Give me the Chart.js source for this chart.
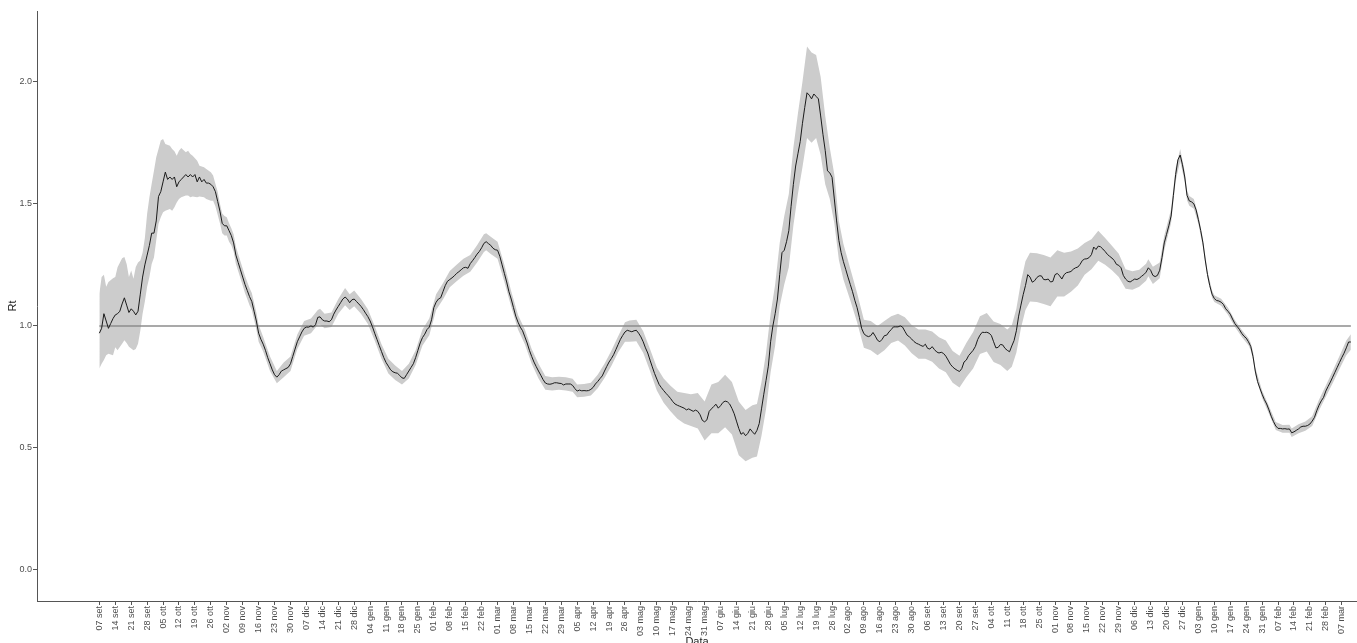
<!DOCTYPE html>
<html>
<head>
<meta charset="utf-8">
<title>Rt</title>
<script src="https://cdn.jsdelivr.net/npm/chart.js@4.4.1/dist/chart.umd.min.js"></script>
<style>
  html, body { margin: 0; padding: 0; background: #ffffff; }
  #wrap { width: 1357px; height: 643px; position: relative; }
</style>
</head>
<body>
<div id="wrap"><canvas id="rtCanvas"></canvas></div>
<script>
// etichette settimanali dell'asse x (una ogni 7 giorni dal 07 set)
const tickLabels = [
  "07 set", "14 set", "21 set", "28 set", "05 ott", "12 ott", "19 ott", "26 ott",
  "02 nov", "09 nov", "16 nov", "23 nov", "30 nov", "07 dic", "14 dic", "21 dic", "28 dic",
  "04 gen", "11 gen", "18 gen", "25 gen", "01 feb", "08 feb", "15 feb", "22 feb",
  "01 mar", "08 mar", "15 mar", "22 mar", "29 mar", "05 apr", "12 apr", "19 apr", "26 apr",
  "03 mag", "10 mag", "17 mag", "24 mag", "31 mag", "07 giu", "14 giu", "21 giu", "28 giu",
  "05 lug", "12 lug", "19 lug", "26 lug", "02 ago", "09 ago", "16 ago", "23 ago", "30 ago",
  "06 set", "13 set", "20 set", "27 set", "04 ott", "11 ott", "18 ott", "25 ott",
  "01 nov", "08 nov", "15 nov", "22 nov", "29 nov", "06 dic", "13 dic", "20 dic", "27 dic",
  "03 gen", "10 gen", "17 gen", "24 gen", "31 gen", "07 feb", "14 feb", "21 feb", "28 feb",
  "07 mar"
];

// Rt giornaliero, giorno 0 = 07 set
const rtValues = [
  0.97, 0.99, 1.05, 1.02, 0.99, 1.01, 1.03, 1.045, 1.05, 1.06,
  1.09, 1.115, 1.085, 1.055, 1.07, 1.06, 1.045, 1.06, 1.13, 1.20,
  1.25, 1.29, 1.33, 1.38, 1.38, 1.43, 1.53, 1.55, 1.59, 1.63,
  1.60, 1.61, 1.60, 1.61, 1.57, 1.59, 1.60, 1.61, 1.62, 1.61,
  1.62, 1.61, 1.62, 1.59, 1.61, 1.59, 1.60, 1.585, 1.585, 1.58,
  1.57, 1.55, 1.51, 1.47, 1.42, 1.41, 1.41, 1.39, 1.37, 1.34,
  1.29, 1.26, 1.23, 1.20, 1.17, 1.145, 1.12, 1.10, 1.06, 1.02,
  0.97, 0.945, 0.925, 0.90, 0.87, 0.845, 0.82, 0.80, 0.79, 0.80,
  0.815, 0.82, 0.825, 0.83, 0.845, 0.875, 0.905, 0.935, 0.955, 0.975,
  0.99, 0.995, 0.995, 1.0, 0.995, 1.005, 1.035, 1.037, 1.025, 1.02,
  1.02, 1.017, 1.025, 1.048, 1.065, 1.08, 1.095, 1.11, 1.118, 1.11,
  1.095, 1.107, 1.11, 1.10, 1.09, 1.08, 1.067, 1.052, 1.038, 1.02,
  0.997, 0.97, 0.945, 0.92, 0.895, 0.87, 0.85, 0.835, 0.82, 0.812,
  0.808, 0.806, 0.797, 0.787, 0.785, 0.80, 0.815, 0.83, 0.845, 0.87,
  0.90, 0.93, 0.952, 0.966, 0.985, 0.995, 1.025, 1.075, 1.097, 1.11,
  1.115, 1.14, 1.165, 1.183, 1.19, 1.197, 1.205, 1.215, 1.222, 1.23,
  1.238, 1.24, 1.236, 1.255, 1.267, 1.28, 1.294, 1.305, 1.32, 1.338,
  1.345, 1.337, 1.33, 1.318, 1.312, 1.31, 1.285, 1.25, 1.215, 1.18,
  1.14, 1.11, 1.075, 1.04, 1.015, 0.995, 0.98, 0.955, 0.93, 0.90,
  0.875, 0.852, 0.833, 0.815, 0.798, 0.78, 0.766, 0.762, 0.761, 0.763,
  0.767, 0.767, 0.765, 0.764, 0.758, 0.762, 0.762, 0.762, 0.756, 0.743,
  0.733, 0.737, 0.734, 0.735, 0.734, 0.735, 0.74, 0.748, 0.762, 0.772,
  0.784, 0.795, 0.815, 0.834, 0.852, 0.866, 0.882, 0.903, 0.924, 0.945,
  0.961, 0.975, 0.982, 0.979, 0.976, 0.98, 0.982, 0.97, 0.955, 0.935,
  0.91, 0.889, 0.86, 0.832, 0.805, 0.782, 0.76, 0.747, 0.735, 0.724,
  0.714, 0.703, 0.69, 0.68, 0.675, 0.671, 0.667, 0.663, 0.656, 0.66,
  0.655, 0.65, 0.655, 0.65, 0.636, 0.613, 0.607, 0.615, 0.65, 0.66,
  0.67, 0.679, 0.663, 0.673, 0.686, 0.692, 0.689, 0.68, 0.662, 0.64,
  0.61, 0.58, 0.556, 0.563, 0.55, 0.56, 0.578, 0.566, 0.556, 0.572,
  0.60, 0.66, 0.72, 0.777, 0.835, 0.935, 1.0, 1.05, 1.11, 1.21,
  1.30, 1.31, 1.345, 1.39, 1.49, 1.58, 1.655, 1.705, 1.755, 1.83,
  1.895, 1.955, 1.945, 1.93, 1.95, 1.94, 1.93, 1.86, 1.785, 1.718,
  1.635, 1.627, 1.609, 1.52, 1.43, 1.35, 1.30, 1.263, 1.232, 1.20,
  1.17, 1.14, 1.105, 1.075, 1.035, 0.99, 0.968, 0.96, 0.956, 0.96,
  0.973, 0.958, 0.941, 0.935, 0.945, 0.96, 0.962, 0.975, 0.985, 0.996,
  0.996, 0.996, 1.0, 0.995, 0.978, 0.962, 0.955, 0.946, 0.936, 0.929,
  0.925, 0.92, 0.916, 0.925, 0.908, 0.905, 0.915, 0.903, 0.893, 0.889,
  0.892, 0.887, 0.876, 0.86, 0.843, 0.832, 0.824, 0.818, 0.813, 0.825,
  0.852, 0.86, 0.878, 0.889, 0.90, 0.916, 0.944, 0.962, 0.974, 0.973,
  0.974, 0.97, 0.961, 0.935, 0.91, 0.912, 0.924, 0.922, 0.908, 0.90,
  0.894, 0.918, 0.94, 0.98, 1.04, 1.085, 1.128, 1.165, 1.21, 1.20,
  1.179, 1.185, 1.198, 1.205, 1.205, 1.19, 1.189, 1.192, 1.18, 1.182,
  1.21, 1.215, 1.205, 1.192, 1.21, 1.218, 1.22, 1.223, 1.232, 1.238,
  1.241, 1.252, 1.268, 1.274, 1.275, 1.28, 1.292, 1.323, 1.313, 1.327,
  1.324, 1.315, 1.305, 1.293, 1.285, 1.278, 1.268, 1.252, 1.248, 1.238,
  1.207, 1.192, 1.183, 1.18, 1.186, 1.192, 1.19, 1.195, 1.203, 1.21,
  1.22, 1.238, 1.228, 1.207, 1.202, 1.207, 1.228, 1.28, 1.34, 1.375,
  1.41, 1.45, 1.535, 1.62, 1.68, 1.70, 1.66, 1.61, 1.535, 1.512,
  1.508, 1.50, 1.475, 1.435, 1.391, 1.34, 1.27, 1.21, 1.165, 1.13,
  1.112, 1.104, 1.102, 1.097, 1.088, 1.07, 1.06, 1.048, 1.028, 1.01,
  0.998, 0.986, 0.97, 0.958, 0.95, 0.935, 0.916, 0.875, 0.815, 0.772,
  0.745, 0.72, 0.698, 0.68, 0.656, 0.63, 0.608, 0.59, 0.58, 0.58,
  0.578, 0.579, 0.577, 0.578, 0.562, 0.566, 0.572, 0.578, 0.586, 0.589,
  0.589, 0.592, 0.598, 0.61, 0.625, 0.652, 0.675, 0.693, 0.707, 0.733,
  0.752, 0.77, 0.79, 0.81, 0.83, 0.85, 0.87, 0.888, 0.91, 0.934,
  0.934
];

// intervallo di confidenza (giorno, limite inferiore, limite superiore)
const bandDays = [
  0, 1, 2, 3, 4, 6, 7, 8, 10, 11, 12, 13, 14, 15, 16, 17, 18, 19,
  20, 21, 22, 23, 24, 25, 26, 27, 28, 29, 31, 32, 33, 34, 35, 36, 38, 39,
  40, 41, 43, 44, 46, 47, 49, 50, 51, 52, 53, 54, 55, 56, 57, 58, 59,
  60, 61, 62, 63, 64, 65, 66, 67, 68, 69, 70, 72, 75, 78, 81, 84, 87,
  90, 93, 96, 97, 99, 102, 105, 108, 110, 112, 115, 118, 121, 124, 127,
  130, 133, 136, 139, 142, 145, 148, 151, 154, 157, 160, 163, 166, 169,
  170, 172, 175, 178, 181, 184, 187, 190, 193, 196, 199, 202, 205, 208,
  210, 213, 216, 219, 222, 225, 228, 231, 233, 236, 239, 242, 245, 248,
  251, 254, 257, 260, 263, 266, 269, 272, 275, 278, 281, 284, 287, 289,
  291, 293, 295, 297, 299, 301, 303, 305, 307, 309, 311, 313, 315, 317,
  319, 321, 323, 325, 327, 330, 333, 336, 339, 342, 345, 348, 351, 354,
  357, 360, 363, 366, 369, 372, 375, 378, 381, 384, 387, 390, 393, 396,
  399, 401, 403, 405, 407, 409, 412, 415, 418, 421, 424, 427, 430, 433,
  436, 439, 442, 445, 448, 451, 454, 457, 460, 461, 463, 466, 468, 471,
  473, 475, 477, 478, 479, 481, 483, 485, 487, 489, 490, 493, 496, 499,
  502, 505, 506, 507, 508, 511, 514, 517, 520, 523, 524, 527, 530, 533,
  536, 539, 542, 545, 548, 550
];
const bandLow = [
  0.825, 0.845, 0.86, 0.88, 0.886, 0.88, 0.913, 0.90, 0.927, 0.941, 0.93, 0.915, 0.907, 0.90, 0.905, 0.927, 0.98, 1.05,
  1.10, 1.16, 1.20, 1.254, 1.28, 1.35, 1.418, 1.445, 1.466, 1.472, 1.479, 1.472, 1.486, 1.506, 1.52, 1.527, 1.534, 1.534,
  1.527, 1.53, 1.527, 1.53, 1.527, 1.52, 1.513, 1.513, 1.49, 1.455, 1.42, 1.38, 1.37, 1.37, 1.345, 1.33, 1.305,
  1.255, 1.225, 1.195, 1.165, 1.135, 1.11, 1.085, 1.065, 1.025, 0.985, 0.935, 0.895, 0.815, 0.765, 0.79, 0.815, 0.905,
  0.96, 0.97, 1.005, 1.005, 0.99, 0.995, 1.05, 1.085, 1.065, 1.08, 1.05, 1.008, 0.94, 0.865, 0.805,
  0.778, 0.76, 0.785, 0.84, 0.92, 0.962, 1.065, 1.108, 1.158, 1.183, 1.205, 1.222, 1.26, 1.303,
  1.31, 1.295, 1.275, 1.18, 1.078, 0.985, 0.925, 0.845, 0.785, 0.738, 0.735, 0.738, 0.735, 0.73,
  0.708, 0.71, 0.715, 0.745, 0.787, 0.836, 0.892, 0.935, 0.935, 0.937, 0.89, 0.815, 0.735, 0.685,
  0.65, 0.62, 0.60, 0.59, 0.58, 0.53, 0.56, 0.56, 0.585, 0.555, 0.47, 0.445, 0.46, 0.465,
  0.55, 0.66, 0.81, 0.92, 1.08, 1.17, 1.24, 1.41, 1.54, 1.65, 1.77, 1.75, 1.77, 1.70,
  1.58, 1.52, 1.42, 1.27, 1.19, 1.105, 1.015, 0.91, 0.90, 0.88, 0.90, 0.93, 0.94, 0.92,
  0.888, 0.865, 0.865, 0.853, 0.825, 0.81, 0.767, 0.748, 0.79, 0.825, 0.885, 0.895, 0.852, 0.84,
  0.815, 0.833, 0.89, 0.99, 1.065, 1.10, 1.098, 1.09, 1.08, 1.12, 1.12, 1.14, 1.165, 1.21,
  1.232, 1.267, 1.25, 1.228, 1.20, 1.152, 1.148, 1.16, 1.185, 1.203, 1.172, 1.195, 1.31, 1.422,
  1.593, 1.675, 1.588, 1.515, 1.492, 1.48, 1.417, 1.323, 1.195, 1.115, 1.098, 1.083, 1.046, 0.996,
  0.956, 0.921, 0.90, 0.862, 0.80, 0.705, 0.64, 0.574, 0.562, 0.562, 0.545, 0.56, 0.57, 0.59,
  0.653, 0.71, 0.765, 0.823, 0.88, 0.902
];
const bandHigh = [
  1.132, 1.20, 1.21, 1.16, 1.18, 1.195, 1.20, 1.24, 1.277, 1.282, 1.254, 1.20, 1.227, 1.193, 1.241, 1.26, 1.268, 1.30,
  1.36, 1.459, 1.527, 1.582, 1.636, 1.691, 1.725, 1.759, 1.766, 1.745, 1.738, 1.725, 1.715, 1.697, 1.718, 1.729, 1.711, 1.718,
  1.704, 1.697, 1.677, 1.656, 1.65, 1.643, 1.629, 1.616, 1.582, 1.55, 1.50, 1.46, 1.45, 1.445, 1.42, 1.40, 1.375,
  1.325, 1.295, 1.265, 1.235, 1.205, 1.18, 1.155, 1.135, 1.095, 1.055, 1.005, 0.955, 0.875, 0.815, 0.85, 0.875, 0.965,
  1.02, 1.03, 1.065, 1.07, 1.05, 1.055, 1.11, 1.155, 1.13, 1.145, 1.11, 1.068, 1.0, 0.925, 0.865,
  0.838, 0.815, 0.845, 0.90, 0.985, 1.03, 1.13, 1.175, 1.225, 1.25, 1.275, 1.29, 1.33, 1.375,
  1.38, 1.365, 1.345, 1.25, 1.142, 1.045, 0.985, 0.905, 0.845, 0.795, 0.79, 0.792, 0.79, 0.783,
  0.76, 0.762, 0.767, 0.80, 0.845, 0.898, 0.958, 1.015, 1.022, 1.025, 0.978, 0.905, 0.83, 0.785,
  0.755, 0.73, 0.725, 0.72, 0.725, 0.69, 0.76, 0.77, 0.80, 0.77, 0.69, 0.655, 0.675, 0.68,
  0.77, 0.89, 1.05, 1.17, 1.34, 1.45, 1.54, 1.73, 1.87, 2.0, 2.145, 2.12, 2.11, 2.02,
  1.86, 1.73, 1.62, 1.43, 1.335, 1.235, 1.135, 1.025, 1.02, 1.0, 1.02, 1.04, 1.05, 1.035,
  1.004, 0.985, 0.985, 0.977, 0.953, 0.94, 0.897, 0.878, 0.93, 0.975, 1.04, 1.053, 1.018, 1.008,
  0.985, 1.003, 1.07, 1.18, 1.265, 1.30, 1.298, 1.29, 1.28, 1.31, 1.30, 1.305, 1.317, 1.34,
  1.355, 1.39, 1.36, 1.328, 1.296, 1.232, 1.224, 1.23, 1.255, 1.273, 1.242, 1.26, 1.37, 1.478,
  1.647, 1.725, 1.632, 1.555, 1.532, 1.52, 1.453, 1.357, 1.225, 1.145, 1.126, 1.111, 1.074, 1.024,
  0.984, 0.949, 0.93, 0.895, 0.83, 0.735, 0.672, 0.606, 0.594, 0.595, 0.58, 0.597, 0.608, 0.63,
  0.697, 0.756, 0.815, 0.877, 0.94, 0.966
];

// linea di riferimento Rt = 1
const refDays = [0, 550];
const refValue = 1;

// tacche asse y
const yTicks = [0, 0.5, 1.0, 1.5, 2.0];

const fontFamily = "'Liberation Sans', Arial, sans-serif";
Chart.defaults.font.family = fontFamily;

function buildChart() {
  const rtPoints = rtValues.map((v, i) => ({ x: i, y: v }));
  const lowPoints = bandDays.map((d, i) => ({ x: d, y: bandLow[i] }));
  const highPoints = bandDays.map((d, i) => ({ x: d, y: bandHigh[i] }));
  const refPoints = refDays.map(d => ({ x: d, y: refValue }));

  const ctx = document.getElementById("rtCanvas").getContext("2d");

  new Chart(ctx, {
    type: "line",
    data: {
      datasets: [
        {
          label: "Rt",
          data: rtPoints,
          borderColor: "#1a1a1a",
          borderWidth: 1,
          pointRadius: 0,
          fill: false,
          order: 0
        },
        {
          label: "soglia",
          data: refPoints,
          borderColor: "#8c8c8c",
          borderWidth: 1.5,
          pointRadius: 0,
          fill: false,
          order: 1
        },
        {
          label: "sup",
          data: highPoints,
          borderColor: "rgba(0,0,0,0)",
          borderWidth: 0,
          pointRadius: 0,
          backgroundColor: "#cccccc",
          fill: "+1",
          order: 2
        },
        {
          label: "inf",
          data: lowPoints,
          borderColor: "rgba(0,0,0,0)",
          borderWidth: 0,
          pointRadius: 0,
          fill: false,
          order: 3
        }
      ]
    },
    options: {
      responsive: true,
      maintainAspectRatio: false,
      animation: false,
      devicePixelRatio: 1,
      layout: { padding: { top: 11, right: 0, bottom: 0, left: 0 } },
      plugins: {
        legend: { display: false },
        tooltip: { enabled: false }
      },
      scales: {
        x: {
          type: "linear",
          min: -27.4,
          max: 552.7,
          afterBuildTicks: scale => {
            scale.ticks = tickLabels.map((_, i) => ({ value: i * 7 }));
          },
          afterFit: scale => { scale.height = 42; },
          ticks: {
            autoSkip: false,
            minRotation: 90,
            maxRotation: 90,
            padding: 1,
            color: "#4d4d4d",
            font: { size: 9 },
            callback: (value, index) => tickLabels[index]
          },
          grid: { drawOnChartArea: false, tickLength: 4, color: "#555555" },
          border: { display: true, color: "#555555", width: 1 },
          title: {
            display: true,
            text: "Data",
            color: "#222222",
            font: { size: 11 },
            padding: { top: 0, bottom: -6 }
          }
        },
        y: {
          min: -0.127,
          max: 2.29,
          afterBuildTicks: scale => {
            scale.ticks = yTicks.map(v => ({ value: v }));
          },
          afterFit: scale => { scale.width = 37; },
          ticks: {
            padding: 1,
            color: "#4d4d4d",
            font: { size: 9 },
            callback: v => Number(v).toFixed(1)
          },
          grid: { drawOnChartArea: false, tickLength: 4, color: "#555555" },
          border: { display: true, color: "#555555", width: 1 },
          title: {
            display: true,
            text: "Rt",
            color: "#222222",
            font: { size: 11 },
            padding: { top: 6, bottom: 0 }
          }
        }
      }
    }
  });
}

document.addEventListener("DOMContentLoaded", buildChart);
</script>
</body>
</html>
